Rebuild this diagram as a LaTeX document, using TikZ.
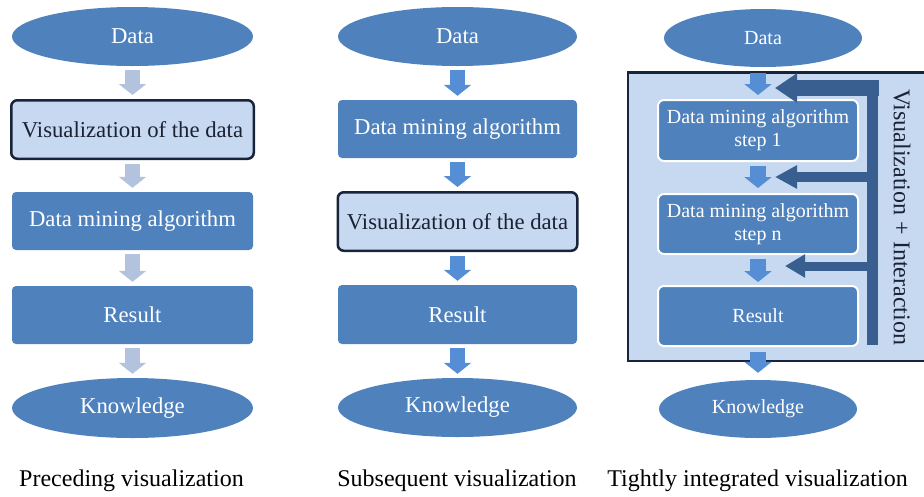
\documentclass[tikz,border=0pt]{standalone}
\usepackage{fontspec}
\setmainfont{Liberation Serif}
\usetikzlibrary{shapes.geometric,arrows.meta}
\definecolor{bfill}{HTML}{4F81BD}
\definecolor{lfill}{HTML}{C6D9F1}
\definecolor{dborder}{HTML}{17243A}
\definecolor{dtext}{HTML}{1A2233}
\definecolor{alight}{HTML}{B3C3DE}
\definecolor{ablue}{HTML}{558ED5}
\definecolor{fbblue}{HTML}{385F8F}
\tikzset{
  base/.style={inner sep=0pt, align=center, font=\fontsize{22.7}{27}\selectfont},
  ell/.style={base, ellipse, fill=bfill, text=white},
  bbox/.style={base, rectangle, rounded corners=4pt, fill=bfill, text=white},
  vbox/.style={base, rectangle, rounded corners=6pt, fill=lfill, draw=dborder, line width=2.5pt, text=dtext},
  ibox/.style={base, rectangle, rounded corners=6pt, fill=bfill, draw=white, line width=2pt, text=white, font=\fontsize{20}{23}\selectfont},
  small/.style={font=\fontsize{20}{23}\selectfont},
  larrow/.style={draw=alight, line width=15pt, shorten <=4pt, shorten >=4pt, -{Triangle[length=11pt,width=27pt]}},
  barrow/.style={draw=ablue, line width=15pt, shorten <=4pt, shorten >=4pt, -{Triangle[length=11pt,width=27pt]}},
  carrow/.style={draw=ablue, line width=16pt, -{Triangle[length=11pt,width=27pt]}},
  fb/.style={draw=fbblue},
  caption/.style={anchor=base, font=\fontsize{24}{28}\selectfont, text=black},
}
\begin{document}
\begin{tikzpicture}[x=1pt,y=-1pt]
\useasboundingbox (0,0) rectangle (924,496);
% ---------- column 1
\node[ell, minimum width=241pt, minimum height=59pt] (d1) at (132.5,36.5) {Data};
\node[vbox, minimum width=242.5pt, minimum height=58.5pt] (v1) at (132.5,129.5) {Visualization of the data};
\node[bbox, minimum width=241pt, minimum height=58pt] (m1) at (132.5,221) {Data mining algorithm};
\node[bbox, minimum width=241pt, minimum height=58pt] (r1) at (132.5,315) {Result};
\node[ell, minimum width=241pt, minimum height=60pt] (k1) at (132.5,408) {Knowledge};
\draw[larrow] (d1.south) -- (v1.north);
\draw[larrow] (v1.south) -- (m1.north);
\draw[larrow] (m1.south) -- (r1.north);
\draw[larrow] (r1.south) -- (k1.north);
\node[caption] (c1) at (131.5,486) {Preceding visualization};
% ---------- column 2
\node[ell, minimum width=239pt, minimum height=59pt] (d2) at (457.5,36.5) {Data};
\node[bbox, minimum width=239pt, minimum height=58pt] (m2) at (457.5,129) {Data mining algorithm};
\node[vbox, minimum width=239.5pt, minimum height=58.5pt] (v2) at (457.5,221.5) {Visualization of the data};
\node[bbox, minimum width=239pt, minimum height=59pt] (r2) at (457.5,314.5) {Result};
\node[ell, minimum width=239pt, minimum height=59pt] (k2) at (457.5,407.5) {Knowledge};
\draw[barrow] (d2.south) -- (m2.north);
\draw[barrow] (m2.south) -- (v2.north);
\draw[barrow] (v2.south) -- (r2.north);
\draw[barrow] (r2.south) -- (k2.north);
\node[caption] (c2) at (457,486) {Subsequent visualization};
% ---------- column 3
\node[draw=dborder, fill=lfill, line width=2.5pt, minimum width=301.75pt, minimum height=288.5pt, inner sep=0pt] (frame) at (779.1,216.5) {};
\node[ell, small, minimum width=198pt, minimum height=58pt] (d3) at (763,38) {Data};
\node[ibox, minimum width=200pt, minimum height=61pt] (s1) at (758,130.5) {Data mining algorithm\\step 1};
\node[ibox, minimum width=200pt, minimum height=60pt] (sn) at (758,224) {Data mining algorithm\\step n};
\node[ibox, minimum width=200pt, minimum height=60pt] (r3) at (758,316) {Result};
\node[ell, small, minimum width=198pt, minimum height=58pt] (k3) at (758,409) {Knowledge};
\draw[carrow, shorten <=6pt, shorten >=4pt] (s1.north |- d3.south) -- (s1.north);
\draw[carrow, shorten <=4pt, shorten >=5pt] (s1.south) -- (sn.north);
\draw[carrow, shorten <=4pt, shorten >=3pt] (sn.south) -- (r3.north);
\draw[carrow, shorten <=5pt, shorten >=7pt] (r3.south) -- (k3.north);
% feedback
\coordinate (fbb) at (872.5,345);
\coordinate (fbt) at (872.5,80);
\coordinate (a1s) at (879,88);
\coordinate (a1e) at (775,88);
\coordinate (a2s) at (868,177);
\coordinate (a2e) at (775,177);
\coordinate (a3s) at (868,266);
\coordinate (a3e) at (785,266);
\draw[fb, line width=11pt] (fbb) -- (fbt);
\draw[fb, line width=16pt, -{Triangle[length=22pt,width=28pt]}] (a1s) -- (a1e);
\draw[fb, line width=10pt, -{Triangle[length=22pt,width=22pt]}] (a2s) -- (a2e);
\draw[fb, line width=9pt, -{Triangle[length=20pt,width=22pt]}] (a3s) -- (a3e);
\node[rotate=-90, inner sep=0pt, font=\fontsize{24}{28}\selectfont, text=dtext] (vt) at (902,217) {Visualization + Interaction};
\node[caption] (c3) at (757.5,486) {Tightly integrated visualization};
\end{tikzpicture}
\end{document}
